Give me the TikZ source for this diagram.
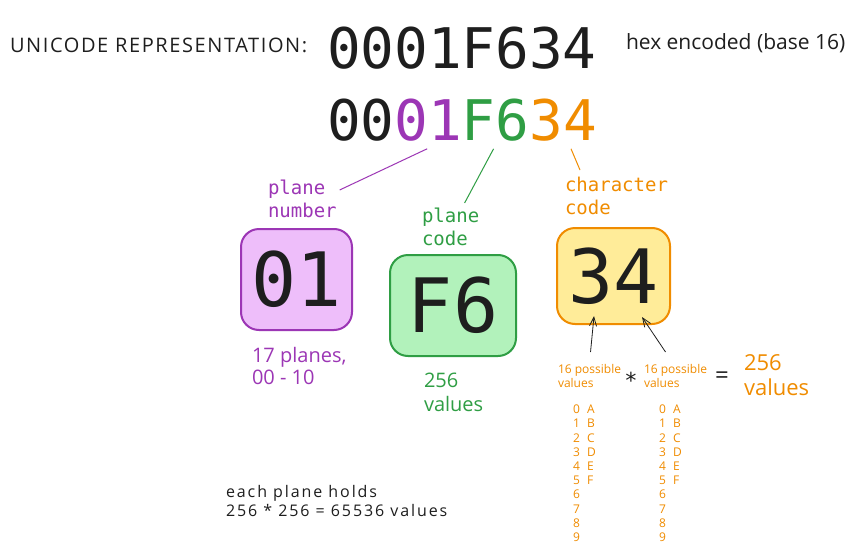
\documentclass[tikz,border=0pt]{standalone}
\usepackage{fontspec}
\setmainfont{Open Sans}
\setmonofont{DejaVu Sans Mono}
\usetikzlibrary{arrows.meta,calc}
\definecolor{ink}{HTML}{1E1E1E}
\definecolor{vio}{HTML}{9C36B5}
\definecolor{grn}{HTML}{2F9E44}
\definecolor{org}{HTML}{F08C00}
\definecolor{viofill}{HTML}{EEBEFA}
\definecolor{grnfill}{HTML}{B2F2BB}
\definecolor{orgfill}{HTML}{FFEC99}
\begin{document}
\begin{tikzpicture}[x=1pt,y=-1pt,
  lbl/.style={inner sep=0pt, outer sep=0pt, anchor=north west, align=left},
  hexpart/.style={inner sep=0pt, outer sep=0pt, anchor=base west, font=\fontsize{56}{60}\ttfamily},
  valbox/.style={draw, line width=2pt, rounded corners=18pt, inner sep=0pt, font=\fontsize{75}{80}\ttfamily, text=ink},
  conn/.style={line width=1pt},
  arr/.style={ink, line width=0.8pt, -{Straight Barb[length=9pt,width=7pt]}}
]
\useasboundingbox (0,0) rectangle (851,554);
\fill[white] (0,0) rectangle (851,554);

% title row
\node[lbl, anchor=west, text=ink, font=\fontsize{20}{23}\selectfont\addfontfeature{LetterSpace=8}] (title) at (10,45) {UNICODE REPRESENTATION:};
\node[hexpart, text=ink] (hexfull) at (327,68) {0001F634};
\node[lbl, anchor=west, text=ink, font=\fontsize{21}{24}\selectfont] (hexnote) at (626,43) {hex encoded (base 16)};

% coloured hex row
\node[hexpart, text=ink] (n00) at (327,140) {00};
\node[hexpart, text=vio] (n01) at (n00.base east) {01};
\node[hexpart, text=grn] (nF6) at (n01.base east) {F6};
\node[hexpart, text=org] (n34) at (nF6.base east) {34};

% labels
\node[lbl, text=vio, font=\fontsize{19}{23}\ttfamily] (plnum) at (268,180) {plane\\number};
\node[lbl, text=grn, font=\fontsize{19}{23}\ttfamily] (plcode) at (422,208) {plane\\code};
\node[lbl, text=org, font=\fontsize{19}{23}\ttfamily] (chcode) at (565,177) {character\\code};

% connectors from hex row to labels
\draw[conn, vio] ($(n01.south)+(-1,8)$) -- ($(plnum.north east)+(3,10)$);
\draw[conn, grn] ($(nF6.south)+(-2,8)$) -- ($(plcode.north)+(14,-5)$);
\draw[conn, org] ($(n34.south)+(8,8)$) -- ($(chcode.north west)+(15,-7)$);

% boxes
\node[valbox, vio, fill=viofill, minimum width=111pt, minimum height=101pt, text=ink] (box01) at (296.5,279.5) {01};
\node[valbox, grn, fill=grnfill, minimum width=126pt, minimum height=101pt, text=ink] (boxF6) at (453,305.5) {F6};
\node[valbox, org, fill=orgfill, minimum width=113pt, minimum height=96pt, text=ink] (box34) at (613.5,276) {34};

% under-box notes
\node[lbl, text=vio, font=\fontsize{20}{22}\selectfont] (planes) at (252,347) {17 planes,\\00 - 10};
\node[lbl, text=grn, font=\fontsize{20}{24}\selectfont] (grnvals) at (424,373) {256\\values};

% possible values
\node[lbl, text=org, font=\fontsize{12}{14}\selectfont] (pos1) at (558,364) {16 possible\\values};
\node[lbl, text=org, font=\fontsize{12}{14}\selectfont] (pos2) at (644,364) {16 possible\\values};
\node[inner sep=0pt, text=ink, font=\fontsize{22}{24}\ttfamily] (times) at (631,380) {*};
\node[inner sep=0pt, text=ink, font=\fontsize{24}{26}\selectfont] (equals) at (722,378) {=};
\node[lbl, text=org, font=\fontsize{22}{25}\selectfont] (orgvals) at (744,355) {256\\values};

\draw[arr] ($(pos1.north)+(1,-12)$) -- ($(box34.south west)+(38,-9)$);
\draw[arr] ($(pos2.north)+(-10,-12)$) -- ($(box34.south west)+(86,-8)$);

% digit columns
\node[lbl, text=org, font=\fontsize{12}{14.2}\selectfont] (col1) at (573,405)
 {\makebox[14pt][l]{0}A\\\makebox[14pt][l]{1}B\\\makebox[14pt][l]{2}C\\\makebox[14pt][l]{3}D\\\makebox[14pt][l]{4}E\\\makebox[14pt][l]{5}F\\6\\7\\8\\9};
\node[lbl, text=org, font=\fontsize{12}{14.2}\selectfont] (col2) at (659,405)
 {\makebox[14pt][l]{0}A\\\makebox[14pt][l]{1}B\\\makebox[14pt][l]{2}C\\\makebox[14pt][l]{3}D\\\makebox[14pt][l]{4}E\\\makebox[14pt][l]{5}F\\6\\7\\8\\9};

% bottom note
\node[lbl, text=ink, font=\fontsize{16}{19}\selectfont\addfontfeature{LetterSpace=12}] (holds) at (226,485) {each plane holds\\256 * 256 = 65536 values};
\end{tikzpicture}
\end{document}
